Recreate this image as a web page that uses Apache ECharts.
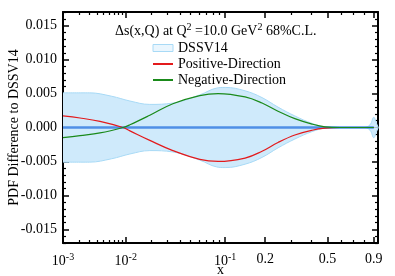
<!DOCTYPE html>
<html><head><meta charset="utf-8">
<script src="https://cdn.jsdelivr.net/npm/echarts@6/dist/echarts.min.js"></script>
<style>html,body{margin:0;padding:0;background:#fff}#c{width:395px;height:276px}</style>
</head><body><div id="c"></div>
<script>
// x positions (Bjorken x) for the direction curves
const xValues = [0.001, 0.00209, 0.0044, 0.0092, 0.0113, 0.0194, 0.034, 0.061, 0.0876, 0.1429, 0.19, 0.245, 0.316, 0.405, 0.484, 0.59, 0.75, 0.9];
const positiveDirection = [0.0017, 0.0014, 0.0009, 0.0000, -0.0005, -0.0019, -0.0034, -0.0047, -0.0050, -0.0045, -0.0035, -0.0022, -0.0011, -0.0004, -0.0001, 0.0, 0.0, 0.0];
const negativeDirection = [-0.0015, -0.0012, -0.0008, 0.0000, 0.0004, 0.0018, 0.0035, 0.0047, 0.0050, 0.0045, 0.0036, 0.0024, 0.0013, 0.0005, 0.0001, 0.0, 0.0, 0.0];
// DSSV14 68% C.L. band half-width
const bandX = [0.001, 0.003, 0.0065, 0.0113, 0.0194, 0.034, 0.061, 0.085, 0.1, 0.1429, 0.19, 0.245, 0.316, 0.405, 0.484, 0.6, 0.8, 0.86, 0.9, 0.93, 0.95];
const bandHalfWidth = [0.0051, 0.0051, 0.0046, 0.0039, 0.0034, 0.0036, 0.0048, 0.0058, 0.0059, 0.0054, 0.0044, 0.0030, 0.0017, 0.0006, 0.0001, 0.0, 0.0, 0.0004, 0.0015, 0.0006, 0.0];
const zeroLineX = [0.001, 0.9];
const xMajorTicks = [0.001, 0.01, 0.1, 0.2, 0.5, 0.9];
const xMajorLabels = ['{b|10}{s|-3}', '{b|10}{s|-2}', '{b|10}{s|-1}', '{b|0.2}', '{b|0.5}', '{b|0.9}'];
const xMinorTicks = [0.002,0.003,0.004,0.005,0.006,0.007,0.008,0.009,0.02,0.03,0.04,0.05,0.06,0.07,0.08,0.09,0.3,0.4,0.6,0.7,0.8];
const yMajorTicks = [-0.015, -0.010, -0.005, 0.000, 0.005, 0.010, 0.015];

const POW = 0.2;
const T = x => Math.pow(x, POW);
const XMIN = T(0.001), XMAX = 0.989;
const YMIN = -0.017, YMAX = 0.017;
const yMinorTicks = [];
for (let k = -17; k <= 17; k++) { if (k % 5 !== 0) yMinorTicks.push(k / 1000); }

const FONT = 'Liberation Serif';
const chart = echarts.init(document.getElementById('c'), null, {renderer: 'canvas'});

function xAxisDef(pos, minor, showLine) {
  return {
    type: 'value', min: XMIN, max: XMAX, position: pos, gridIndex: 0,
    axisLine: {show: showLine, onZero: false, lineStyle: {color: '#000', width: 2}},
    axisTick: {show: true, inside: true, length: minor ? 3 : 6,
      customValues: (minor ? xMinorTicks : xMajorTicks).map(T),
      lineStyle: {color: '#000', width: minor ? 1.2 : 1.5}},
    axisLabel: {show: false},
    splitLine: {show: false}
  };
}
function yAxisDef(pos, minor, showLine) {
  return {
    type: 'value', min: YMIN, max: YMAX, position: pos, gridIndex: 0,
    axisLine: {show: showLine, onZero: false, lineStyle: {color: '#000', width: 2}},
    axisTick: {show: true, inside: true, length: minor ? 3 : 6,
      customValues: minor ? yMinorTicks : yMajorTicks,
      lineStyle: {color: '#000', width: minor ? 1.2 : 1.5}},
    axisLabel: {show: false},
    splitLine: {show: false}
  };
}

const xMain = xAxisDef('bottom', false, true);
xMain.axisLabel = {
  show: true, customValues: xMajorTicks.map(T), margin: 9,
  showMinLabel: true, showMaxLabel: true,
  formatter: v => {
    for (let i = 0; i < xMajorTicks.length; i++) if (Math.abs(T(xMajorTicks[i]) - v) < 1e-7) return xMajorLabels[i];
    return '';
  },
  rich: {
    b: {fontFamily: FONT, fontSize: 14, color: '#000'},
    s: {fontFamily: FONT, fontSize: 10, color: '#000', padding: [0, 0, 9, 0]}
  }
};
xMain.name = 'x';
xMain.nameLocation = 'middle';
xMain.nameGap = 20;
xMain.nameMoveOverlap = false;
xMain.nameTextStyle = {fontFamily: FONT, fontSize: 14, color: '#000'};

const yMain = yAxisDef('left', false, true);
yMain.axisLabel = {
  show: true, customValues: yMajorTicks, margin: 6,
  formatter: v => v.toFixed(3),
  fontFamily: FONT, fontSize: 14, color: '#000'
};
yMain.name = 'PDF Difference to DSSV14';
yMain.nameLocation = 'middle';
yMain.nameGap = 42;
yMain.nameMoveOverlap = false;
yMain.nameTextStyle = {fontFamily: FONT, fontSize: 14, color: '#000'};

const pts = (xs, ys) => xs.map((x, i) => [T(x), ys[i]]);
const hide = {opacity: 0};

chart.setOption({
  animation: false,
  grid: {left: 63, right: 17, top: 12, bottom: 33, containLabel: false, outerBoundsMode: 'none'},
  title: {
    left: 110, top: 17,
    text: '{n|Δs(x,Q) at Q}{s|2}{n| =10.0 GeV}{s|2}{n| 68%C.L.}',
    textStyle: {
      fontWeight: 'normal',
      rich: {
        n: {fontFamily: FONT, fontSize: 14, color: '#000', fontWeight: 'normal'},
        s: {fontFamily: FONT, fontSize: 10, color: '#000', fontWeight: 'normal', padding: [0, 0, 8, 0]}
      }
    }
  },
  legend: {
    orient: 'vertical', left: 147, top: 35,
    itemWidth: 20, itemHeight: 7, itemGap: 0, itemTextGap: 6,
    textStyle: {fontFamily: FONT, fontSize: 14, color: '#000', lineHeight: 16},
    data: [
      {name: 'DSSV14', icon: 'rect', itemStyle: {color: '#eaf6fe', borderColor: '#a8daf6', borderWidth: 1}},
      {name: 'Positive-Direction', itemStyle: hide},
      {name: 'Negative-Direction', itemStyle: hide}
    ]
  },
  xAxis: [xMain, xAxisDef('bottom', true, false), xAxisDef('top', false, true), xAxisDef('top', true, false)],
  yAxis: [yMain, yAxisDef('left', true, false), yAxisDef('right', false, true), yAxisDef('right', true, false)],
  series: [
    {name: 'DSSV14', type: 'line', data: pts(bandX, bandHalfWidth), smooth: 0.4,
     symbol: 'none', lineStyle: {color: '#a8daf6', width: 1}, areaStyle: {color: '#cfeafb', opacity: 1}, z: 1},
    {name: 'DSSV14-lower', type: 'line', data: pts(bandX, bandHalfWidth.map(v => -v)), smooth: 0.4,
     symbol: 'none', lineStyle: {color: '#a8daf6', width: 1}, areaStyle: {color: '#cfeafb', opacity: 1}, z: 1},
    {name: 'DSSV14-central', type: 'line', data: pts(zeroLineX, zeroLineX.map(() => 0)),
     symbol: 'none', lineStyle: {color: '#4f8fe6', width: 2.5}, z: 2},
    {name: 'Positive-Direction', type: 'line', data: pts(xValues, positiveDirection), smooth: 0.4,
     symbol: 'none', lineStyle: {color: '#e31a1c', width: 1.2}, itemStyle: {color: '#e31a1c'}, z: 3},
    {name: 'Negative-Direction', type: 'line', data: pts(xValues, negativeDirection), smooth: 0.4,
     symbol: 'none', lineStyle: {color: '#1a8a1a', width: 1.2}, itemStyle: {color: '#1a8a1a'}, z: 3}
  ]
});
</script>
</body></html>
